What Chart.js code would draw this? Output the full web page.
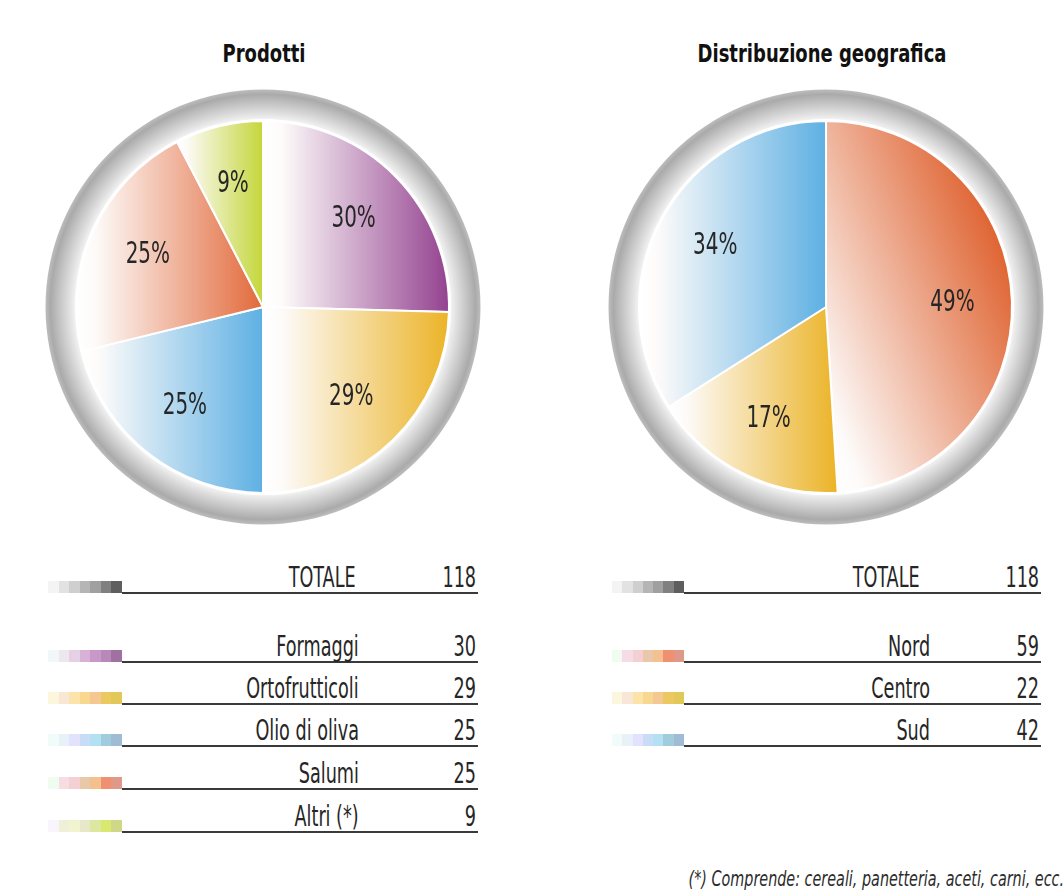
<!DOCTYPE html>
<html lang="it">
<head>
<meta charset="utf-8">
<title>Prodotti e distribuzione geografica</title>
<script src="https://cdn.jsdelivr.net/npm/chart.js@4.4.1/dist/chart.umd.min.js"></script>
<style>
  html, body { margin: 0; padding: 0; background: #ffffff; }
  #page { position: relative; width: 1064px; height: 893px; overflow: hidden;
          font-family: "Liberation Sans Narrow", "DejaVu Sans Condensed", "Liberation Sans", sans-serif; color: #262626; }
  .title { position: absolute; top: 41px; font-weight: bold; font-size: 25px; line-height: 25px;
           text-align: center; width: 400px; color: #111; transform: scaleX(0.8); }
  canvas.pie { position: absolute; }
  .txt { position: absolute; font-size: 28px; line-height: 28px; white-space: nowrap;
         transform-origin: right center; transform: scaleX(0.7); text-align: right; }
  .rule { position: absolute; height: 2px; background: #3a3a3a; }
  .sw { position: absolute; height: 12px; display: flex; }
  .sw span { flex: 1; }
  .note { position: absolute; right: 0px; top: 869px; font-style: italic; font-size: 21px; line-height: 21px;
          white-space: nowrap; transform-origin: right center; transform: scaleX(0.76); color: #2c2c2c; }
</style>
</head>
<body>
<div id="page">
  <div class="title" id="t1" style="left:64px;"></div>
  <div class="title" id="t2" style="left:622px;"></div>
  <canvas class="pie" id="pie1" width="436" height="436" style="left:45px; top:89px;"></canvas>
  <canvas class="pie" id="pie2" width="436" height="436" style="left:608px; top:89px;"></canvas>
  <div id="tables"></div>
  <div class="note" id="note"></div>
</div>
<script>
// ---- Data ----
const prodTitle = 'Prodotti';
const prodLabels = ['Formaggi', 'Ortofrutticoli', 'Olio di oliva', 'Salumi', 'Altri (*)'];
const prodValues = [30, 29, 25, 25, 9];
const prodPercent = [30, 29, 25, 25, 9];
const prodTotal = 118;

const geoTitle = 'Distribuzione geografica';
const geoLabels = ['Nord', 'Centro', 'Sud'];
const geoValues = [59, 22, 42];
const geoPercent = [49, 17, 34];
const geoTotal = 118;

const totalLabel = 'TOTALE';
const footnote = '(*) Comprende: cereali, panetteria, aceti, carni, ecc.';

// ---- Styling ----
const C_PURPLE = '#93418f', C_GOLD = '#ebb326', C_BLUE = '#5eb0e3', C_ORANGE = '#e2693a', C_LIME = '#c4d63a';
const prodColors = [C_PURPLE, C_GOLD, C_BLUE, C_ORANGE, C_LIME];
const geoColors = ['#df6432', C_GOLD, C_BLUE];
// gradient direction per slice, degrees above horizontal
const prodTilt = [0, 0, 0, 0, 0];
const geoTilt = [22, 0, 0];

const SW_GREY = ['#f4f4f4', '#e2e2e2', '#cfcfcf', '#b5b5b5', '#a0a0a0', '#808080', '#5e5e5e'];
const SW_PURPLE = ['#f0f8f8', '#ece8f0', '#e6d0e4', '#d8b0d8', '#c898c8', '#b888b8', '#a070a0'];
const SW_GOLD = ['#fcf6dc', '#f8e6d6', '#fce4a8', '#f8d890', '#f4c890', '#ecc860', '#e2c858'];
const SW_BLUE = ['#f0fcfa', '#e8f0f8', '#e2e2fc', '#c8dcf8', '#b4e0f4', '#a0ccdc', '#a0bcd4'];
const SW_ORANGE = ['#f0fcf0', '#f8dce4', '#f4d0d4', '#e8c8a8', '#f4c090', '#f09070', '#e09888'];
const SW_LIME = ['#faf4fc', '#f0f0d8', '#f0f4d0', '#e8e8c8', '#dce8a0', '#d8e870', '#d0d888'];

// White-to-colour gradient across each slice's own extent along its direction
function sliceGradient(values, colors, tilts) {
  return function (c) {
    const chart = c.chart, a = chart.chartArea;
    const col = colors[c.dataIndex];
    if (!a) return col;
    const cx = (a.left + a.right) / 2, cy = (a.top + a.bottom) / 2;
    const R = Math.min(a.right - a.left, a.bottom - a.top) / 2;
    const sum = values.reduce((s, v) => s + v, 0);
    let acc = 0;
    for (let i = 0; i < c.dataIndex; i++) acc += values[i];
    const t0 = acc / sum * Math.PI * 2, t1 = (acc + values[c.dataIndex]) / sum * Math.PI * 2;
    const tilt = tilts[c.dataIndex] * Math.PI / 180;
    const ux = Math.cos(tilt), uy = -Math.sin(tilt);
    let lo = 0, hi = 0;
    for (let k = 0; k <= 60; k++) {
      const t = t0 + (t1 - t0) * k / 60;
      const d = R * Math.sin(t) * ux + (-R * Math.cos(t)) * uy;
      lo = Math.min(lo, d); hi = Math.max(hi, d);
    }
    const g = chart.ctx.createLinearGradient(cx + ux * lo, cy + uy * lo, cx + ux * hi, cy + uy * hi);
    g.addColorStop(0, '#ffffff');
    g.addColorStop(0.1, '#fdfbfa');
    g.addColorStop(1, col);
    return g;
  };
}

// Grey bezel drawn around the pie
const ringPlugin = {
  id: 'ring',
  beforeDatasetsDraw(chart) {
    const a = chart.chartArea, ctx = chart.ctx;
    const cx = (a.left + a.right) / 2, cy = (a.top + a.bottom) / 2;
    const R = Math.min(a.right - a.left, a.bottom - a.top) / 2;
    const outer = R + 30.5;
    ctx.save();
    const g = ctx.createRadialGradient(cx, cy, R - 2, cx, cy, outer);
    g.addColorStop(0, '#fbfbfb');
    g.addColorStop(0.25, '#e2e2e2');
    g.addColorStop(0.6, '#c2c2c2');
    g.addColorStop(0.85, '#aaaaaa');
    g.addColorStop(1, '#bdbdbd');
    ctx.beginPath();
    ctx.arc(cx, cy, outer, 0, Math.PI * 2);
    ctx.arc(cx, cy, R - 2, 0, Math.PI * 2, true);
    ctx.fillStyle = g;
    ctx.fill('evenodd');
    ctx.beginPath();
    ctx.arc(cx, cy, R + 1, 0, Math.PI * 2);
    ctx.fillStyle = '#ffffff';
    ctx.fill();
    ctx.restore();
  }
};

// Percentage labels inside each slice
const pctPlugin = {
  id: 'pct',
  afterDatasetsDraw(chart, args, opts) {
    const ctx = chart.ctx;
    const meta = chart.getDatasetMeta(0);
    meta.data.forEach((arc, i) => {
      const p = arc.getProps(['x', 'y', 'startAngle', 'endAngle', 'outerRadius'], true);
      const mid = (p.startAngle + p.endAngle) / 2;
      const r = p.outerRadius * 0.68;
      const x = p.x + Math.cos(mid) * r, y = p.y + Math.sin(mid) * r;
      ctx.save();
      ctx.translate(x, y);
      ctx.scale(0.74, 1);
      ctx.font = '30px "Liberation Sans Narrow", "DejaVu Sans Condensed", sans-serif';
      ctx.fillStyle = '#262626';
      ctx.textAlign = 'center';
      ctx.textBaseline = 'middle';
      ctx.fillText(opts.labels[i], 0, 0);
      ctx.restore();
    });
  }
};

function makePie(id, labels, values, colors, tilts, pctLabels) {
  return new Chart(document.getElementById(id), {
    type: 'pie',
    data: {
      labels: labels,
      datasets: [{
        data: values,
        backgroundColor: sliceGradient(values, colors, tilts),
        borderColor: '#ffffff',
        borderWidth: 2
      }]
    },
    options: {
      responsive: false,
      animation: false,
      layout: { padding: 31 },
      plugins: {
        legend: { display: false },
        tooltip: { enabled: false },
        pct: { labels: pctLabels }
      }
    },
    plugins: [ringPlugin, pctPlugin]
  });
}

makePie('pie1', prodLabels, prodPercent, prodColors, prodTilt, prodPercent.map(v => v + '%'));
makePie('pie2', geoLabels, geoPercent, geoColors, geoTilt, geoPercent.map(v => v + '%'));

document.getElementById('t1').textContent = prodTitle;
document.getElementById('t2').textContent = geoTitle;
document.getElementById('note').textContent = footnote;

// ---- Summary tables under each pie ----
function addRow(host, cfg, lineY, label, value, swatch) {
  const sw = document.createElement('div');
  sw.className = 'sw';
  sw.style.left = cfg.swLeft + 'px';
  sw.style.width = (cfg.lineLeft - cfg.swLeft) + 'px';
  sw.style.top = (lineY - 12) + 'px';
  swatch.forEach(c => { const s = document.createElement('span'); s.style.background = c; sw.appendChild(s); });
  host.appendChild(sw);

  const rule = document.createElement('div');
  rule.className = 'rule';
  rule.style.left = cfg.lineLeft + 'px';
  rule.style.width = (cfg.lineRight - cfg.lineLeft) + 'px';
  rule.style.top = (lineY - 1) + 'px';
  host.appendChild(rule);

  const base = lineY - 5;
  const lab = document.createElement('div');
  lab.className = 'txt';
  lab.textContent = label;
  lab.style.right = (1064 - cfg.labelRight) + 'px';
  lab.style.top = (base - 24) + 'px';
  host.appendChild(lab);

  const val = document.createElement('div');
  val.className = 'txt';
  val.textContent = String(value);
  val.style.right = (1064 - cfg.lineRight + 2) + 'px';
  val.style.top = (base - 24) + 'px';
  host.appendChild(val);
}

const host = document.getElementById('tables');
const rowYs = [662, 704, 746, 789, 832];
const leftCfg = { swLeft: 48, lineLeft: 122, lineRight: 478, labelRight: 359 };
const rightCfg = { swLeft: 612, lineLeft: 684, lineRight: 1041, labelRight: 930 };

const prodSwatches = [SW_PURPLE, SW_GOLD, SW_BLUE, SW_ORANGE, SW_LIME];
const geoSwatches = [SW_ORANGE, SW_GOLD, SW_BLUE];

addRow(host, Object.assign({}, leftCfg, { labelRight: 356 }), 593, totalLabel, prodTotal, SW_GREY);
prodLabels.forEach((l, i) => addRow(host, leftCfg, rowYs[i], l, prodValues[i], prodSwatches[i]));
addRow(host, Object.assign({}, rightCfg, { labelRight: 920 }), 593, totalLabel, geoTotal, SW_GREY);
geoLabels.forEach((l, i) => addRow(host, rightCfg, rowYs[i], l, geoValues[i], geoSwatches[i]));
</script>
</body>
</html>
